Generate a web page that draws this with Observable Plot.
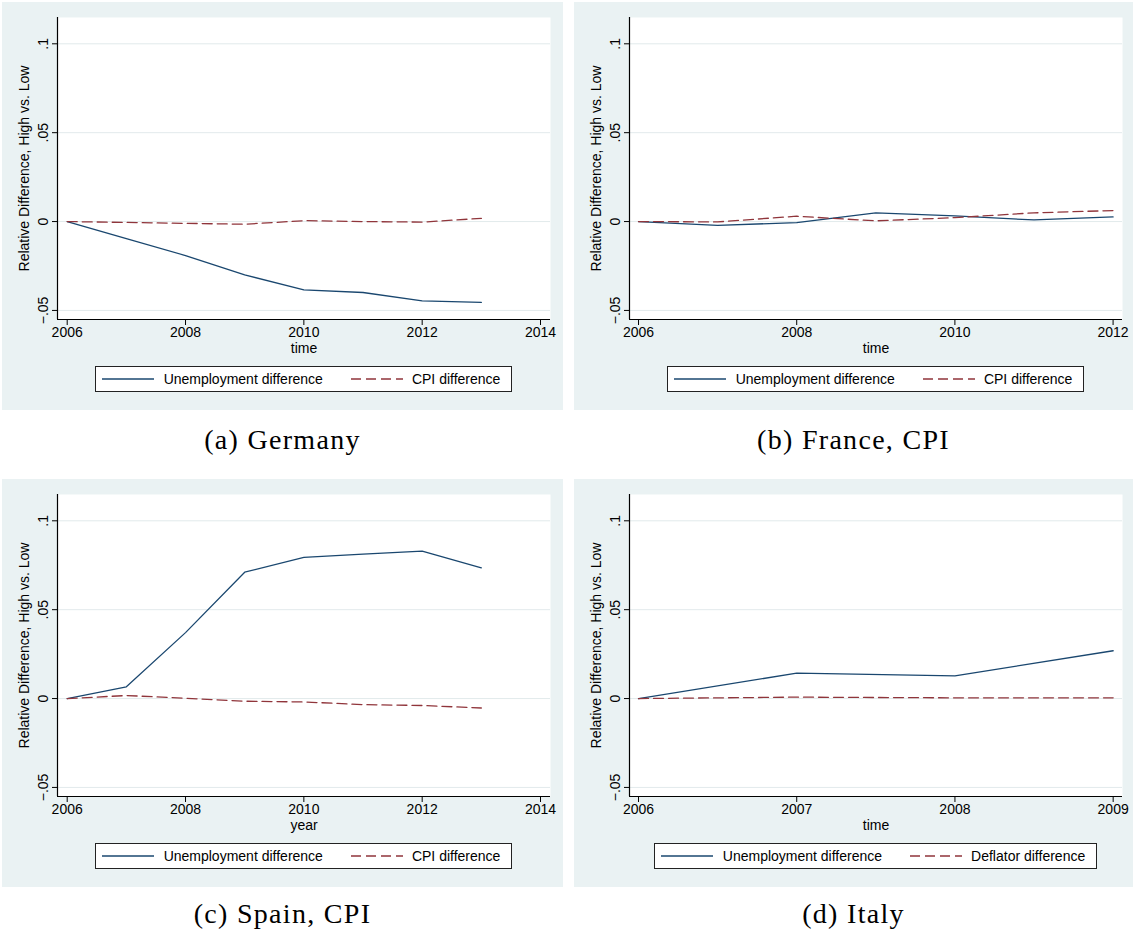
<!DOCTYPE html>
<html>
<head>
<meta charset="utf-8">
<script src="https://cdn.jsdelivr.net/npm/d3@7"></script>
<script src="https://cdn.jsdelivr.net/npm/@observablehq/plot@0.6"></script>
<style>
  body { margin: 0; background: #fff; }
  #page { position: relative; width: 1133px; height: 935px; font-family: "Liberation Sans", Arial, sans-serif; }
  .panel { position: absolute; background: #eaf2f3; }
  .panel svg.plot { position: absolute; left: 0; top: 0; }
  .legend { position: absolute; display: flex; justify-content: center; }
  .legend .box { display: flex; align-items: center; box-sizing: border-box; height: 26px; background: #fff;
    border: 1px solid #222; padding: 0 11px 0 6px; font-size: 14px; color: #000; white-space: nowrap; }
  .legend svg { display: block; }
  .caption { position: absolute; height: 28px; line-height: 28px; text-align: center; color: #000;
    font-family: "Liberation Serif", "Times New Roman", serif; font-size: 28px; letter-spacing: 1.3px; }
</style>
</head>
<body>
<div id="page"></div>
<script>
// ---- Data: relative difference, high vs. low exposure regions ----
const germanyYears  = [2006, 2007, 2008, 2009, 2010, 2011, 2012, 2013];
const germanyUnemp  = [0, -0.0096, -0.0191, -0.0300, -0.0384, -0.0399, -0.0446, -0.0455];
const germanyCPI    = [0, -0.0005, -0.0010, -0.0015, 0.0005, 0.0000, -0.0003, 0.0018];

const franceYears   = [2006, 2007, 2008, 2009, 2010, 2011, 2012];
const franceUnemp   = [0, -0.0021, -0.0006, 0.0049, 0.0032, 0.0009, 0.0026];
const franceCPI     = [0, -0.0002, 0.0030, 0.0004, 0.0022, 0.0049, 0.0062];

const spainYears    = [2006, 2007, 2008, 2009, 2010, 2011, 2012, 2013];
const spainUnemp    = [0, 0.0066, 0.0371, 0.0711, 0.0794, 0.0812, 0.0829, 0.0735];
const spainCPI      = [0, 0.0017, 0.0002, -0.0015, -0.0019, -0.0034, -0.0039, -0.0053];

const italyYears    = [2006, 2007, 2008, 2009];
const italyUnemp    = [0, 0.0143, 0.0128, 0.0269];
const italyDeflator = [0, 0.0008, 0.0004, 0.0004];

const yTicks        = [-0.05, 0, 0.05, 0.1];
const xTicksLong    = [2006, 2008, 2010, 2012, 2014];
const xTicksFrance  = [2006, 2008, 2010, 2012];
const xTicksItaly   = [2006, 2007, 2008, 2009];

const yTitle        = "Relative Difference, High vs. Low";
const unempLabel    = "Unemployment difference";
const cpiLabel      = "CPI difference";
const deflatorLabel = "Deflator difference";
const captions      = ["(a) Germany", "(b) France, CPI", "(c) Spain, CPI", "(d) Italy"];

// ---- Styling ----
const navy = "#1a476f";
const maroon = "#90353b";
const gridColor = "#e2eaec";
const dash = "10,5";
const yDomain = [-0.0551, 0.1148];

const panels = [
  { left: 2,   top: 2,   width: 561, years: germanyYears, a: germanyUnemp, b: germanyCPI,    bLabel: cpiLabel,
    xTicks: xTicksLong,   xDomain: [2005.836, 2014.169], xTitle: "time", caption: captions[0], captionTop: 426 },
  { left: 574, top: 2,   width: 559, years: franceYears,  a: franceUnemp,  b: franceCPI,     bLabel: cpiLabel,
    xTicks: xTicksFrance, xDomain: [2005.886, 2012.119], xTitle: "time", caption: captions[1], captionTop: 426 },
  { left: 2,   top: 479, width: 561, years: spainYears,   a: spainUnemp,   b: spainCPI,      bLabel: cpiLabel,
    xTicks: xTicksLong,   xDomain: [2005.836, 2014.169], xTitle: "year", caption: captions[2], captionTop: 900 },
  { left: 574, top: 479, width: 559, years: italyYears,   a: italyUnemp,   b: italyDeflator, bLabel: deflatorLabel,
    xTicks: xTicksItaly,  xDomain: [2005.943, 2009.059], xTitle: "time", caption: captions[3], captionTop: 900 }
];

const PANEL_H = 408, SVG_H = 356, M_TOP = 15, M_BOTTOM = 39, M_LEFT = 55, FRAME_RIGHT = 548;

const fmtY = d => d === 0 ? "0" : (d < 0 ? "\u2212" : "") + String(Math.abs(d)).replace(/^0/, "");

// short line sample for a legend key
function swatch(color, dashed) {
  const ns = "http://www.w3.org/2000/svg";
  const s = document.createElementNS(ns, "svg");
  s.setAttribute("width", 52); s.setAttribute("height", 10);
  const l = document.createElementNS(ns, "line");
  l.setAttribute("x1", 0); l.setAttribute("x2", 52);
  l.setAttribute("y1", 5); l.setAttribute("y2", 5);
  l.setAttribute("stroke", color); l.setAttribute("stroke-width", 1.3);
  if (dashed) l.setAttribute("stroke-dasharray", dash);
  s.appendChild(l);
  return s;
}

const page = document.getElementById("page");

panels.forEach(p => {
  const rowsA = p.years.map((year, j) => ({ year, value: p.a[j] }));
  const rowsB = p.years.map((year, j) => ({ year, value: p.b[j] }));
  const marginRight = p.width - FRAME_RIGHT;

  const panel = document.createElement("div");
  panel.className = "panel";
  Object.assign(panel.style, { left: p.left + "px", top: p.top + "px", width: p.width + "px", height: PANEL_H + "px" });

  const chart = Plot.plot({
    width: p.width,
    height: SVG_H,
    marginTop: M_TOP,
    marginBottom: M_BOTTOM,
    marginLeft: M_LEFT,
    marginRight,
    x: { domain: p.xDomain },
    y: { domain: yDomain },
    style: { fontFamily: '"Liberation Sans", Arial, sans-serif', fontSize: "14px", color: "#000", background: "transparent", overflow: "visible" },
    marks: [
      Plot.frame({ fill: "#fff", stroke: null }),
      Plot.gridY(yTicks, { stroke: gridColor, strokeOpacity: 1, strokeWidth: 1 }),
      Plot.line(rowsA, { x: "year", y: "value", stroke: navy, strokeWidth: 1.3 }),
      Plot.line(rowsB, { x: "year", y: "value", stroke: maroon, strokeWidth: 1.3, strokeDasharray: dash }),
      Plot.ruleX([p.xDomain[0]], { stroke: "#000", strokeWidth: 1.2 }),
      Plot.ruleY([yDomain[0]], { stroke: "#000", strokeWidth: 1.2 }),
      Plot.axisY(yTicks, {
        tickSize: 5, tickPadding: 5, tickRotate: -90, tickFormat: fmtY,
        label: yTitle, labelAnchor: "center", labelArrow: "none", labelOffset: 38
      }),
      Plot.axisX(p.xTicks, {
        tickSize: 6, tickPadding: 1.5, tickFormat: d => String(d),
        label: p.xTitle, labelAnchor: "center", labelArrow: "none", labelOffset: 33
      })
    ]
  });
  chart.classList.add("plot");
  panel.appendChild(chart);

  // legend below the plot, centred on the plot region
  const legend = document.createElement("div");
  legend.className = "legend";
  Object.assign(legend.style, { left: M_LEFT + "px", width: (p.width - M_LEFT - marginRight) + "px", top: "364px" });
  const box = document.createElement("div");
  box.className = "box";
  const t1 = document.createElement("span"); t1.textContent = unempLabel; t1.style.marginLeft = "10px";
  const s2 = swatch(maroon, true); s2.style.marginLeft = "28px";
  const t2 = document.createElement("span"); t2.textContent = p.bLabel; t2.style.marginLeft = "9px";
  box.append(swatch(navy, false), t1, s2, t2);
  legend.appendChild(box);
  panel.appendChild(legend);
  page.appendChild(panel);

  const cap = document.createElement("div");
  cap.className = "caption";
  cap.textContent = p.caption;
  Object.assign(cap.style, { left: p.left + "px", width: p.width + "px", top: p.captionTop + "px" });
  page.appendChild(cap);
});
</script>
</body>
</html>
